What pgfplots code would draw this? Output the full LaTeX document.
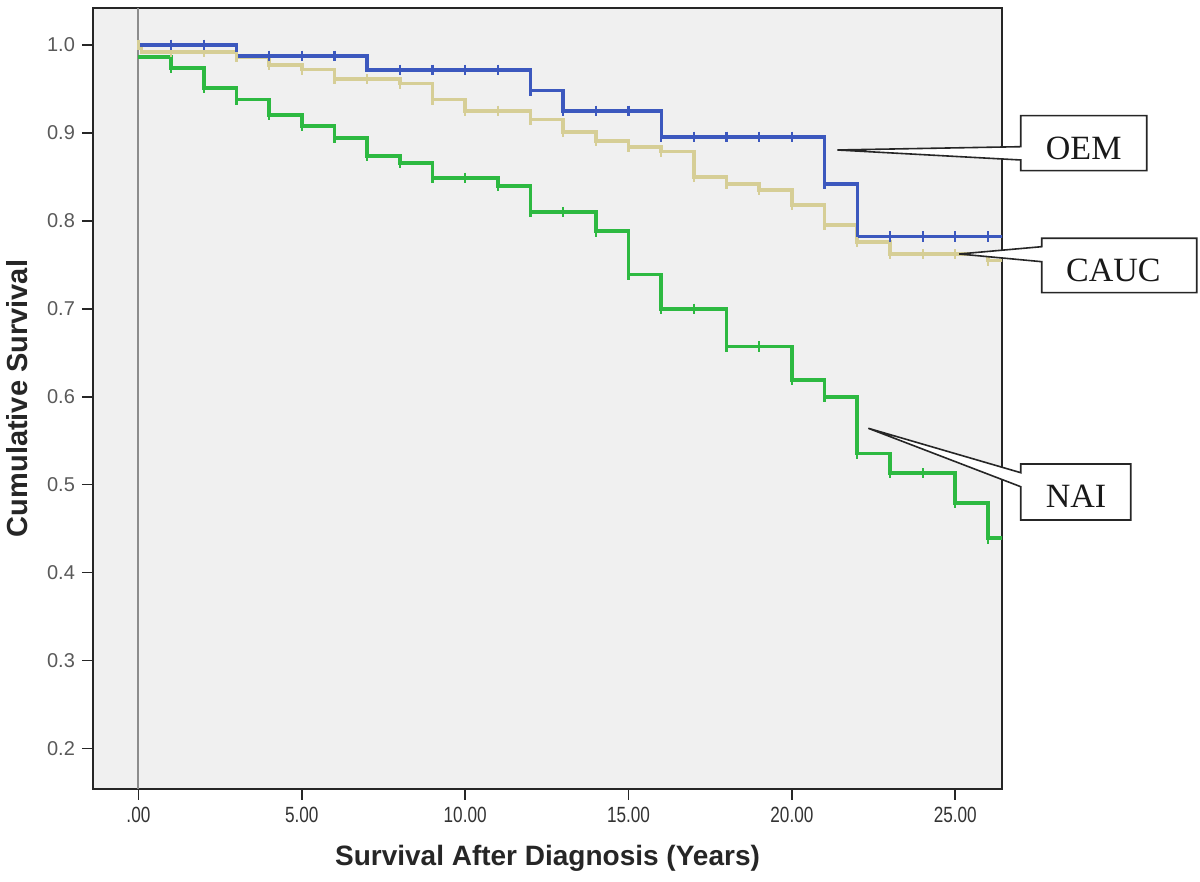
\documentclass[border=0pt]{standalone}
\usepackage{fontspec}
\setmainfont{Liberation Sans}
\newfontfamily\serif{Liberation Serif}
\newfontfamily\narrow[FakeStretch=0.78]{Liberation Sans}
\usepackage{pgfplots}
\pgfplotsset{compat=1.18}
\definecolor{bgc}{RGB}{240,240,240}
\definecolor{oem}{RGB}{60,88,190}
\definecolor{nai}{RGB}{45,185,65}
\definecolor{cauc}{RGB}{214,206,150}
\definecolor{zline}{RGB}{140,140,140}
\begin{document}
\begin{tikzpicture}[x=1pt,y=1pt]
\useasboundingbox (0,0) rectangle (600,441);
\begin{axis}[
  at={(46.5pt,46.5pt)}, anchor=south west,
  scale only axis, width=454.5pt, height=390.5pt,
  xmin=-1.39, xmax=26.43, ymin=0.154, ymax=1.042,
  axis background/.style={fill=bgc},
  axis line style={black!85, line width=0.9pt},
  tick align=outside, xtick pos=bottom, ytick pos=left,
  major tick length=5.5pt,
  tick style={black!85, line width=0.8pt},
  xtick={0,5,10,15,20,25},
  xticklabels={.00,5.00,10.00,15.00,20.00,25.00},
  ytick={0.2,0.3,0.4,0.5,0.6,0.7,0.8,0.9,1.0},
  yticklabels={0.2,0.3,0.4,0.5,0.6,0.7,0.8,0.9,1.0},
  xticklabel style={font=\narrow\fontsize{11}{11}\selectfont, text=black!80},
  yticklabel style={font=\fontsize{10}{10}\selectfont, text=black!65},
  xlabel={Survival After Diagnosis (Years)},
  ylabel={Cumulative Survival},
  xlabel style={font=\bfseries\fontsize{14}{14}\selectfont, text=black!85, at={(axis description cs:0.5,-0.0884)}, anchor=center},
  ylabel style={font=\bfseries\fontsize{14.5}{14}\selectfont, text=black!85, at={(axis description cs:-0.0836,0.5)}, anchor=center},
  clip=true,
]
\draw[zline, line width=1pt] (axis cs:0,0.154) -- (axis cs:0,1.042);
% NAI
\addplot[const plot, nai, line width=1.9pt] coordinates {
 (0,0.986) (1,0.9735) (2,0.951) (3,0.938) (4,0.920) (5,0.9075) (6,0.894)
 (7,0.8735) (8,0.866) (9,0.849) (11,0.840) (12,0.810) (14,0.788) (15,0.739)
 (16,0.700) (18,0.657) (20,0.619) (21,0.600) (22,0.5355) (23,0.513)
 (25,0.479) (26,0.439) (26.6,0.439)};
\addplot[only marks, mark=|, mark size=2.6pt, nai, line width=1.1pt] coordinates {
 (1,0.9735) (2,0.951) (3,0.938) (4,0.920) (5,0.9075) (6,0.894) (7,0.8735)
 (8,0.866) (9,0.849) (10,0.849) (11,0.840) (12,0.810) (13,0.810) (14,0.788)
 (15,0.739) (16,0.700) (17,0.700) (18,0.657) (19,0.657) (20,0.619) (21,0.600)
 (22,0.5355) (23,0.513) (24,0.513) (25,0.479) (26,0.439)};
% CAUC
\addplot[const plot, cauc, line width=1.8pt] coordinates {
 (0,1.0) (0.1,0.992) (3,0.986) (4,0.977) (5,0.972) (6,0.961) (8,0.956)
 (9,0.938) (10,0.925) (12,0.915) (13,0.901) (14,0.891) (15,0.884) (16,0.879)
 (17,0.850) (18,0.842) (19,0.835) (20,0.818) (21,0.795) (22,0.776)
 (23,0.762) (26,0.755) (26.6,0.755)};
\addplot[only marks, mark=|, mark size=2.6pt, cauc, line width=1.1pt] coordinates {
 (0,1.0) (1,0.992) (2,0.992) (3,0.986) (4,0.977) (5,0.972) (6,0.961) (7,0.961)
 (8,0.956) (9,0.938) (10,0.925) (11,0.925) (12,0.915) (13,0.901) (14,0.891)
 (15,0.884) (16,0.879) (17,0.850) (18,0.842) (19,0.835) (20,0.818) (21,0.795)
 (22,0.776) (23,0.762) (24,0.762) (25,0.762) (26,0.755)};
% OEM
\addplot[const plot, oem, line width=1.7pt] coordinates {
 (0,1.0) (3,0.9875) (7,0.9716) (12,0.948) (13,0.925) (16,0.8955)
 (21,0.842) (22,0.782) (26.6,0.782)};
\addplot[only marks, mark=|, mark size=2.6pt, oem, line width=1.1pt] coordinates {
 (1,1.0) (2,1.0) (4,0.9875) (5,0.9875) (6,0.9875) (8,0.9716) (9,0.9716)
 (10,0.9716) (11,0.9716) (12,0.948) (13,0.925) (14,0.925) (15,0.925)
 (16,0.8955) (17,0.8955) (18,0.8955) (19,0.8955) (20,0.8955) (21,0.842)
 (23,0.782) (24,0.782) (25,0.782) (26,0.782)};
\end{axis}
% callouts
\draw[black!85, line width=0.8pt, fill=white, line join=miter]
  (510.35,383.15) -- (573.35,383.15) -- (573.35,355.65) -- (510.35,355.65)
  -- (510.35,361) -- (418.65,366) -- (510.35,367.65) -- cycle;
\node[font=\serif\fontsize{17}{17}\selectfont, text=black!90] at (541.85,367) {OEM};
\draw[black!85, line width=0.8pt, fill=white, line join=miter]
  (520.85,321.85) -- (598.35,321.85) -- (598.35,294.65) -- (520.85,294.65)
  -- (520.85,310.15) -- (479.65,314) -- (520.85,317.65) -- cycle;
\node[font=\serif\fontsize{17}{17}\selectfont, text=black!90] at (556.65,305.65) {CAUC};
\draw[black!85, line width=0.8pt, fill=white, line join=miter]
  (510.35,209) -- (565.35,209) -- (565.35,181) -- (510.35,181)
  -- (510.35,197.65) -- (434.15,226.85) -- (510.35,204.65) -- cycle;
\node[font=\serif\fontsize{17}{17}\selectfont, text=black!90] at (538,192.65) {NAI};
\end{tikzpicture}
\end{document}
